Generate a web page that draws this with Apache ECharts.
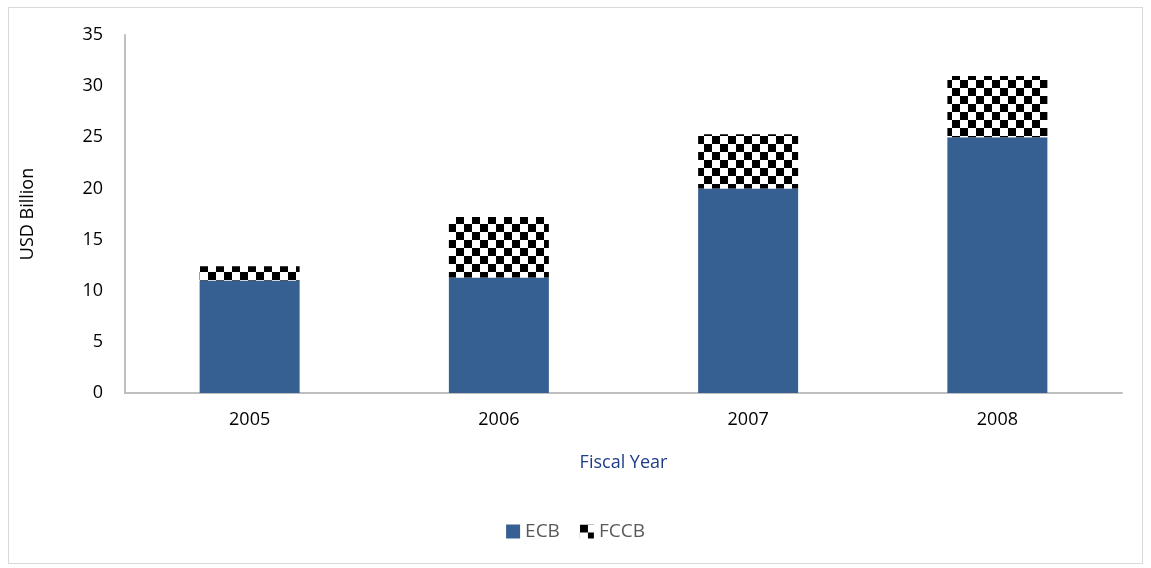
<!DOCTYPE html>
<html>
<head>
<meta charset="utf-8">
<script src="https://cdn.jsdelivr.net/npm/echarts@6/dist/echarts.min.js"></script>
<style>
  html, body { margin: 0; padding: 0; background: #fff; }
  #frame {
    position: absolute; left: 8px; top: 7px; width: 1135px; height: 557px;
    border: 1px solid #d9d9d9; box-sizing: border-box;
  }
  #chart { position: absolute; left: 0; top: 0; width: 1151px; height: 568px; }
</style>
</head>
<body>
<div id="frame"></div>
<div id="chart"></div>
<script>
const years = ["2005", "2006", "2007", "2008"];
const ecb = [11.0, 11.3, 20.0, 25.0];
const fccb = [1.4, 5.9, 5.3, 6.0];
const yTicks = { min: 0, max: 35, interval: 5 };

// checkerboard fill for FCCB
function checker(size) {
  const c = document.createElement("canvas");
  c.width = size * 2;
  c.height = size * 2;
  const ctx = c.getContext("2d");
  ctx.fillStyle = "#fff";
  ctx.fillRect(0, 0, size * 2, size * 2);
  ctx.fillStyle = "#000";
  ctx.fillRect(0, 0, size, size);
  ctx.fillRect(size, size, size, size);
  return c;
}

const chart = echarts.init(document.getElementById("chart"));
const font = "Open Sans, Liberation Sans, sans-serif";

chart.setOption({
  animation: false,
  grid: { left: 125, right: 29, top: 35, bottom: 175 },
  legend: {
    bottom: 22,
    left: "center",
    icon: "rect",
    itemWidth: 14,
    itemHeight: 14,
    itemGap: 20,
    textStyle: { fontFamily: font, fontSize: 19, color: "#595959" },
    data: ["ECB", "FCCB"],
  },
  xAxis: {
    type: "category",
    data: years,
    name: "Fiscal Year",
    nameLocation: "middle",
    nameGap: 61,
    nameTextStyle: { fontFamily: font, fontSize: 18, color: "#1f3c88" },
    axisLine: { lineStyle: { color: "#bfbfbf", width: 2 } },
    axisTick: { show: false },
    axisLabel: { fontFamily: font, fontSize: 18, color: "#000", margin: 18 },
  },
  yAxis: {
    type: "value",
    min: yTicks.min,
    max: yTicks.max,
    interval: yTicks.interval,
    name: "USD Billion",
    nameLocation: "middle",
    nameGap: 88,
    nameTextStyle: { fontFamily: font, fontSize: 18, color: "#000" },
    axisLine: { show: true, lineStyle: { color: "#bfbfbf", width: 2 } },
    axisTick: { show: false },
    splitLine: { show: false },
    axisLabel: { fontFamily: font, fontSize: 18, color: "#000", margin: 22 },
  },
  series: [
    {
      name: "ECB",
      type: "bar",
      stack: "total",
      barWidth: 100,
      data: ecb,
      itemStyle: { color: "#366092" },
    },
    {
      name: "FCCB",
      type: "bar",
      stack: "total",
      barWidth: 100,
      data: fccb,
      itemStyle: { color: { image: checker(8), repeat: "repeat" } },
    },
  ],
});
</script>
</body>
</html>
